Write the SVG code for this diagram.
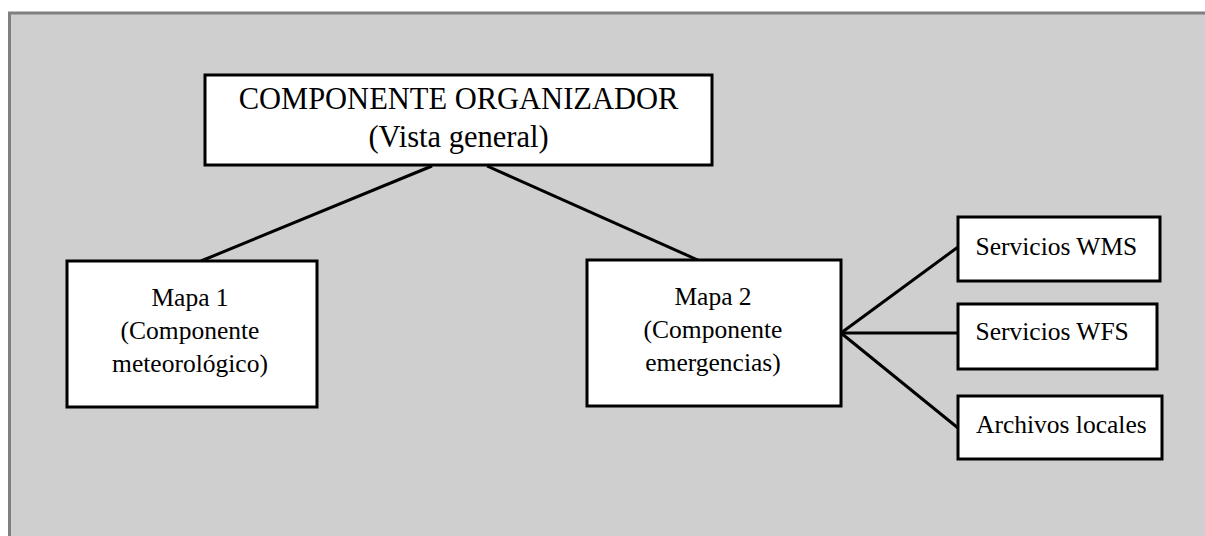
<svg xmlns="http://www.w3.org/2000/svg" width="1205" height="536" viewBox="0 0 1205 536">
<style>
.box{fill:#ffffff;stroke:#000000;stroke-width:3}
.t{font-family:"Liberation Serif","Times New Roman",serif;fill:#000000}
.big{font-size:30.5px}
.sm{font-size:25.5px}
.c{text-anchor:middle}
.ln{stroke:#000000;stroke-width:3;fill:none}
</style>
<rect x="0" y="0" width="1205" height="536" fill="#ffffff"/>
<rect x="9.5" y="13" width="1300" height="600" fill="#cfcfcf" stroke="#808080" stroke-width="3"/>
<g id="connectors">
<line class="ln" x1="432" y1="166" x2="201" y2="261"/>
<line class="ln" x1="487" y1="166" x2="700" y2="261"/>
<line class="ln" x1="841" y1="333" x2="958" y2="247"/>
<line class="ln" x1="841" y1="333" x2="958" y2="333"/>
<line class="ln" x1="841" y1="333" x2="958" y2="428"/>
</g>
<g id="organizador">
<rect class="box" x="205" y="75" width="507" height="90"/>
<text class="t big c" x="458.5" y="109">COMPONENTE ORGANIZADOR</text>
<text class="t big c" x="458.5" y="147">(Vista general)</text>
</g>
<g id="mapa1">
<rect class="box" x="67" y="261" width="250" height="146"/>
<text class="t sm c" x="190" y="306">Mapa 1</text>
<text class="t sm c" x="190" y="339">(Componente</text>
<text class="t sm c" x="190" y="372">meteorológico)</text>
</g>
<g id="mapa2">
<rect class="box" x="587" y="260" width="254" height="146"/>
<text class="t sm c" x="713" y="305">Mapa 2</text>
<text class="t sm c" x="713" y="338">(Componente</text>
<text class="t sm c" x="713" y="371">emergencias)</text>
</g>
<g id="wms">
<rect class="box" x="958" y="217" width="202" height="64"/>
<text class="t sm" x="975.5" y="255">Servicios WMS</text>
</g>
<g id="wfs">
<rect class="box" x="958" y="304" width="199" height="65"/>
<text class="t sm" x="975.5" y="340">Servicios WFS</text>
</g>
<g id="archivos">
<rect class="box" x="958" y="396" width="204" height="63"/>
<text class="t sm" x="976" y="433">Archivos locales</text>
</g>
</svg>
